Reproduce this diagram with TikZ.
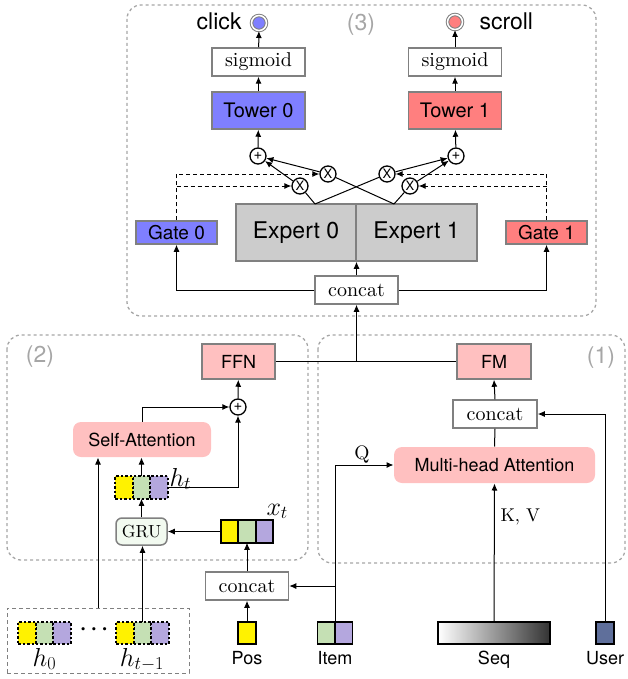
\RequirePackage{fix-cm}
\documentclass[tikz,border=0pt]{standalone}
\usepackage{fontspec}
\setsansfont{TeX Gyre Heros}
\newfontfamily\figserif{lmroman10-regular.otf}
\usepackage{tikz}
\usetikzlibrary{arrows.meta,positioning}

\newcommand{\figsf}[1]{\sffamily\fontsize{#1}{#1}\selectfont}
\newcommand{\figrm}[1]{\figserif\fontsize{#1}{#1}\selectfont}

\definecolor{towblue}{HTML}{7F7FFF}
\definecolor{towred}{HTML}{FF7F7F}
\definecolor{lightpink}{HTML}{FFC0C0}
\definecolor{expgray}{HTML}{CCCCCC}
\definecolor{cellgreen}{HTML}{C5E0B4}
\definecolor{celllav}{HTML}{B4A7DE}
\definecolor{userblue}{HTML}{5F6F9B}
\definecolor{grufill}{HTML}{F2FAF0}
\definecolor{boxline}{HTML}{808080}
\definecolor{grpline}{HTML}{A6A6A6}

\tikzset{
    blk/.style={draw=boxline, line width=1.5pt, inner sep=0pt, font=\figsf{20}},
    serifbox/.style={draw=boxline, line width=1.5pt, fill=white, inner sep=0pt, font=\figrm{20}},
    attn/.style={fill=lightpink, rounded corners=8pt, inner sep=0pt, font=\figsf{18}},
    op/.style={circle, draw=black, line width=1.3pt, fill=white, minimum size=16pt, inner sep=0pt, font=\figsf{13}},
    outc/.style={circle, draw=boxline, double=white, double distance=1.5pt, line width=1pt, minimum size=15pt, inner sep=0pt},
    cell/.style={draw=black, minimum width=17.5pt, minimum height=22.5pt, inner sep=0pt, outer sep=0pt},
    hcell/.style={cell, dash pattern=on 2.5pt off 2pt, line width=1.6pt},
    xcell/.style={cell, line width=1.6pt},
    grp/.style={draw=grpline, dash pattern=on 3pt off 3pt, line width=1.3pt, rounded corners=14pt},
    tag/.style={text=grpline, inner sep=0pt, font=\figsf{23}},
    lbl/.style={inner sep=0pt, font=\figsf{18}},
    mlbl/.style={inner sep=0pt, font=\fontsize{26}{26}\selectfont},
    gdash/.style={->, dash pattern=on 4pt off 3pt},
}

\begin{document}
\begin{tikzpicture}[x=1pt, y=-1pt, line width=1pt, >={Latex[length=7pt,width=6pt]}]
    \useasboundingbox (0,0) rectangle (627,679);

    % the three parts
    \draw[grp] (127,5) rectangle (596,316);
    \draw[grp] (7,335) rectangle (308,560);
    \draw[grp] (318,335) rectangle (625,563);
    \node[tag] (tag3) at (361,25) {(3)};
    \node[tag] (tag2) at (40,357) {(2)};
    \node[tag] (tag1) at (601,358) {(1)};

    % (3) towers and gates
    \node[outc, fill=towblue] (click) at (259,23) {};
    \node[outc, fill=towred] (scroll) at (455,22) {};
    \node[anchor=base east, inner sep=0pt, font=\figsf{23}] (clicklbl) at (242,30) {click};
    \node[anchor=base west, inner sep=0pt, font=\figsf{23}] (scrolllbl) at (479,30) {scroll};

    \node[serifbox, minimum width=93pt, minimum height=28pt] (sig0) at (258.5,62) {sigmoid};
    \node[serifbox, minimum width=93pt, minimum height=28pt] (sig1) at (455,62) {sigmoid};
    \node[blk, fill=towblue, minimum width=93pt, minimum height=37pt] (tow0) at (258.5,110.5) {Tower 0};
    \node[blk, fill=towred, minimum width=93pt, minimum height=37pt] (tow1) at (455,110.5) {Tower 1};

    \node[op, font=\figsf{15}] (add0) at (258,156) {+};
    \node[op, font=\figsf{15}] (add1) at (456,156) {+};
    \node[op] (xa) at (328,174) {X};
    \node[op] (xb) at (300,186) {X};
    \node[op] (xc) at (387,174) {X};
    \node[op] (xd) at (410,186) {X};

    \node[blk, fill=towblue, font=\figsf{19}, minimum width=81pt, minimum height=23pt] (gate0) at (176.5,232.5) {Gate 0};
    \node[blk, fill=towred, font=\figsf{19}, minimum width=81pt, minimum height=23pt] (gate1) at (546.5,232.5) {Gate 1};
    \node[blk, fill=expgray, font=\figsf{23}, minimum width=120pt, minimum height=57pt] (exp0) at (296,232.5) {Expert 0};
    \node[blk, fill=expgray, font=\figsf{23}, minimum width=121pt, minimum height=57pt] (exp1) at (416.5,232.5) {Expert 1};
    \node[serifbox, minimum width=83pt, minimum height=28pt] (cat3) at (356.5,290) {concat};

    \coordinate (e0out) at (315,204);
    \coordinate (e1out) at (394,204);

    \draw[->] (sig0) -- (click);
    \draw[->] (sig1) -- (scroll);
    \draw[->] (tow0) -- (sig0);
    \draw[->] (tow1) -- (sig1);
    \draw[->] (add0) -- (tow0);
    \draw[->] (add1) -- (tow1);
    \draw[->] (xa) -- (add0);
    \draw[->] (xb) -- (add0);
    \draw[->] (xc) -- (add1);
    \draw[->] (xd) -- (add1);
    \draw (e0out) -- (xb);
    \draw (e0out) -- (xc);
    \draw (e1out) -- (xa);
    \draw (e1out) -- (xd);
    \draw[gdash] (gate0.north) -- (gate0.north |- xa) -- (xa);
    \draw[gdash] (gate0.north |- xb) -- (xb);
    \draw[gdash] (gate1.north) -- (gate1.north |- xc) -- (xc);
    \draw[gdash] (gate1.north |- xd) -- (xd);
    \draw[->] (cat3.west) -| (gate0.south);
    \draw[->] (cat3.east) -| (gate1.south);
    \draw[->] (cat3.north) -- (cat3.north |- exp0.south);

    % (2) sequence part
    \node[blk, fill=lightpink, font=\figsf{18}, minimum width=73pt, minimum height=35pt] (ffn) at (238.5,361.5) {FFN};
    \node[op, font=\figsf{15}] (add2) at (238,407) {+};
    \node[attn, minimum width=138pt, minimum height=35pt] (satt) at (142,439.5) {Self-Attention};

    \node[hcell, fill=cellgreen] (ht2) at (141.5,487.5) {};
    \node[hcell, fill=yellow, left=0pt of ht2] (ht1) {};
    \node[hcell, fill=celllav, right=0pt of ht2] (ht3) {};
    \node[mlbl, anchor=base west] (htlbl) at (169,486) {$h_t$};

    \node[draw=boxline, line width=1.5pt, fill=grufill, rounded corners=6pt, inner sep=0pt,
        minimum width=51pt, minimum height=27pt, font=\figrm{17.5}] (gru) at (141.5,531.5) {GRU};

    \node[xcell, fill=cellgreen] (xt2) at (247,531.5) {};
    \node[xcell, fill=yellow, left=0pt of xt2] (xt1) {};
    \node[xcell, fill=celllav, right=0pt of xt2] (xt3) {};
    \node[mlbl, anchor=base west] (xtlbl) at (266,515) {$x_t$};

    \node[serifbox, minimum width=83pt, minimum height=28pt] (cat2) at (247,586) {concat};

    \draw[->] (add2) -- (ffn);
    \draw[->] (satt.north) |- (add2.west);
    \draw[->] (ht3.east) -| (add2.south);
    \draw[->] (ht2.north) -- (ht2.north |- satt.south);
    \draw[->] (gru.north) -- (ht2.south);
    \draw[->] (xt1.west) -- (gru.east);
    \draw[->] (cat2.north) -- (xt2.south);

    % (1) feature part
    \node[blk, fill=lightpink, font=\figsf{18}, minimum width=74pt, minimum height=35pt] (fm) at (494,361.5) {FM};
    \node[serifbox, minimum width=84pt, minimum height=28pt] (cat1) at (495,414) {concat};
    \node[attn, minimum width=201pt, minimum height=36pt] (mha) at (494.5,465) {Multi-head Attention};
    \node[inner sep=0pt, font=\figrm{19.5}] (qlbl) at (362,455) {Q};
    \node[inner sep=0pt, font=\figrm{18.5}, anchor=west] (kvlbl) at (500,517) {K, V};

    \draw (ffn.east) -- (fm.west);
    \draw[->] (cat3.south |- ffn.east) -- (cat3.south);
    \draw[->] (cat1.north) -- (fm.south);
    \draw (mha.north) -- (cat1.south);

    % inputs
    \node[draw=boxline, dash pattern=on 4pt off 3pt, line width=1pt, minimum width=182pt, minimum height=65pt] (hist) at (98,640.5) {};
    \node[hcell, fill=cellgreen] (h0b) at (44.5,633) {};
    \node[hcell, fill=yellow, left=0pt of h0b] (h0a) {};
    \node[hcell, fill=celllav, right=0pt of h0b] (h0c) {};
    \node[hcell, fill=cellgreen] (h1b) at (142.5,633) {};
    \node[hcell, fill=yellow, left=0pt of h1b] (h1a) {};
    \node[hcell, fill=celllav, right=0pt of h1b] (h1c) {};
    \node[mlbl, font=\fontsize{21}{21}\selectfont\boldmath] (hdots) at (94,630) {$\cdots$};
    \node[mlbl, anchor=base] (h0lbl) at (44.5,666) {$h_0$};
    \node[mlbl, anchor=base] (h1lbl) at (142,666) {$h_{t-1}$};

    \node[xcell, fill=yellow, minimum width=18pt] (pos) at (247,633) {};
    \node[xcell, fill=cellgreen] (item1) at (326.25,633) {};
    \node[xcell, fill=celllav, right=0pt of item1] (item2) {};
    \node[draw=black, line width=1.6pt, left color=white, right color=black!80, inner sep=0pt,
        minimum width=112pt, minimum height=22.5pt] (seq) at (494,633) {};
    \node[xcell, fill=userblue, minimum width=18pt] (user) at (605,633) {};

    \node[lbl, anchor=base] (poslbl) at (247,664) {Pos};
    \node[lbl, anchor=base] (itemlbl) at (335,664) {Item};
    \node[lbl, anchor=base] (seqlbl) at (494,664) {Seq};
    \node[lbl, anchor=base] (userlbl) at (605,664) {User};

    \draw[->] (hist.north) -- (hist.north |- satt.south);
    \draw[->] (h1b.north) -- (h1b.north |- gru.south);
    \draw[->] (pos.north) -- (cat2.south);
    \draw[->] (item1.north east) |- (mha.west);
    \draw[->] (item1.north east |- cat2.east) -- (cat2.east);
    \draw[->] (seq.north) -- (mha.south);
    \draw[->] (user.north) |- (cat1.east);
\end{tikzpicture}
\end{document}
